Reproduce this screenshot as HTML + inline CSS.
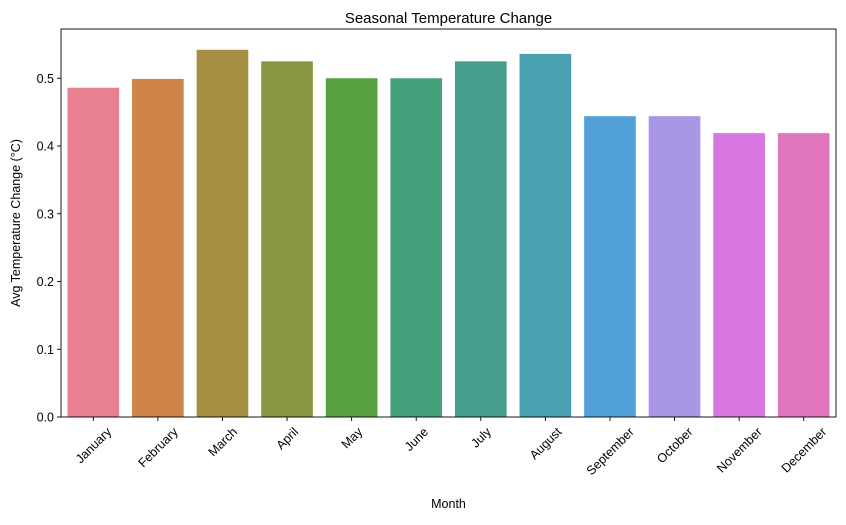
<!DOCTYPE html>
<html><head><meta charset="utf-8"><style>
body{margin:0;background:#fff;}
svg text{font-family:"Liberation Sans","DejaVu Sans",sans-serif;fill:#000;}
</style></head><body>
<svg id="chart" width="846" height="520" xmlns="http://www.w3.org/2000/svg">
<rect width="846" height="520" fill="#fff"/>
<g id="bars"></g>
<g id="axes"></g>
</svg>
<script>
const categories=["January","February","March","April","May","June","July","August","September","October","November","December"];
const values=[0.486,0.499,0.542,0.525,0.500,0.500,0.525,0.536,0.444,0.444,0.419,0.419];
const colors=["#e7808f","#cf8549","#a68f42","#8a9642","#55a03f","#45a17c","#469e8f","#48a0b0","#52a0d8","#a996e6","#d877e2","#e176bc"];
const yTicks=[0.0,0.1,0.2,0.3,0.4,0.5];
const yTickLabels=["0.0","0.1","0.2","0.3","0.4","0.5"];

const NS="http://www.w3.org/2000/svg";
const L=61,R=836,T=29,B=417,yMax=0.5727;
const band=(R-L)/categories.length;
const x=i=>L+band*(i+0.5);
const y=v=>B-(v/yMax)*(B-T);
function mk(tag,attrs,parent,text){const e=document.createElementNS(NS,tag);for(const k in attrs)e.setAttribute(k,attrs[k]);if(text!==undefined)e.textContent=text;parent.appendChild(e);return e;}
const bars=document.getElementById('bars'),axes=document.getElementById('axes');
values.forEach((v,i)=>{
  const r=mk('rect',{x:x(i)-band*0.4,y:y(v),width:band*0.8,height:B-y(v),fill:colors[i]},bars);
  
  
});
const frame=mk('rect',{x:L,y:T,width:R-L,height:B-T,fill:'none',stroke:'#000','stroke-width':0.9},axes);


yTicks.forEach((t,i)=>{
  mk('line',{x1:L-4,x2:L,y1:y(t),y2:y(t),stroke:'#000','stroke-width':0.9},axes);
  const tl=mk('text',{x:L-7,y:y(t)+4.5,'text-anchor':'end','font-size':12.5},axes,yTickLabels[i]);
  
  
});
categories.forEach((c,i)=>{
  mk('line',{x1:x(i),x2:x(i),y1:B,y2:B+4,stroke:'#000','stroke-width':0.9},axes);
  const tl=mk('text',{x:x(i),y:0,'text-anchor':'middle','font-size':12.5},axes,c);
  
  
  const w=tl.getComputedTextLength(),h=12.5;
  const cy=B+8+(w+h)*0.7071/2;
  tl.setAttribute('y',cy+4.5);
  tl.setAttribute('transform',`rotate(-45 ${x(i)} ${cy})`);
});
const title=mk('text',{x:(L+R)/2,y:23,'text-anchor':'middle','font-size':15},axes,'Seasonal Temperature Change');


const xt=mk('text',{x:(L+R)/2,y:508,'text-anchor':'middle','font-size':12.5},axes,'Month');


const yt=mk('text',{x:20,y:(T+B)/2,'text-anchor':'middle','font-size':12.5,transform:`rotate(-90 20 ${(T+B)/2})`},axes,'Avg Temperature Change (°C)');


</script>
</body></html>
